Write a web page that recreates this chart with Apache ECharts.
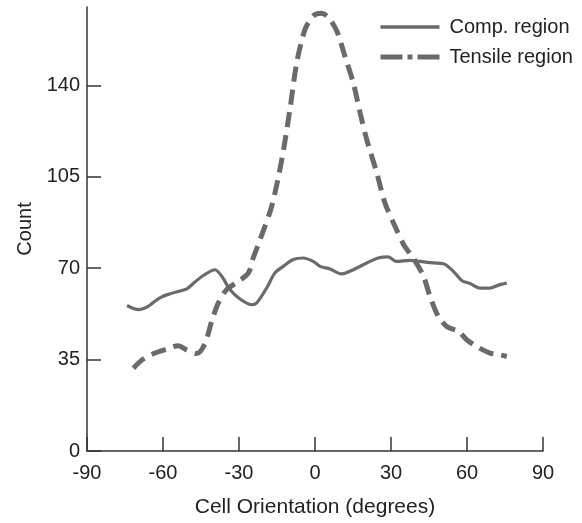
<!DOCTYPE html>
<html>
<head>
<meta charset="utf-8">
<script src="https://cdn.jsdelivr.net/npm/echarts@6/dist/echarts.min.js"></script>
<style>
html,body{margin:0;padding:0;background:#fff;}
#chart{width:582px;height:523px;}
</style>
</head>
<body>
<div id="chart"></div>
<script>
const seriesNames = ['Comp. region', 'Tensile region'];
const xTicks = [-90, -60, -30, 0, 30, 60, 90];
const yTicks = [0, 35, 70, 105, 140];

const compX = [-74.2, -69.7, -66.4, -63.8, -60.5, -57.2, -54, -50.6, -47.4, -44.1, -39.5, -36.8, -33.6, -29.6, -25, -23, -19.1, -15.8, -12.5, -8.6, -4.6, -0.7, 2, 5.9, 10.5, 15.1, 20.4, 25, 28.9, 32.2, 37.5, 41.5, 46.7, 50.7, 54.6, 57.9, 61.2, 65.1, 69.1, 73, 75.7];
const compY = [55.7, 54.1, 55.1, 56.9, 59, 60.2, 61.1, 62.1, 64.7, 67.2, 69.4, 66.9, 61.8, 58.2, 56, 56.7, 62.4, 68.2, 70.7, 73.3, 73.9, 72.6, 70.7, 69.7, 67.8, 69.4, 72, 73.9, 74.3, 72.6, 73, 72.6, 72, 71.7, 68.8, 65.3, 64.1, 62.4, 62.4, 63.7, 64.3];

const tensX = [-71.7, -67.8, -63.2, -58.6, -54, -50.7, -46.7, -43.5, -40.8, -38.2, -34.9, -30.3, -26.3, -24.4, -21.7, -17.1, -13.1, -9.9, -7.2, -3.9, -0.7, 2.6, 5.3, 8.6, 11.8, 15.1, 17.8, 20.4, 24.4, 27.6, 31.6, 35.2, 38.8, 42.8, 45.4, 48.7, 52, 56.6, 59.9, 63.8, 69.1, 73, 75.7];
const tensY = [31.7, 35.2, 37.5, 39, 40.3, 38.7, 37.3, 41, 49.6, 56.6, 61.8, 64.9, 68.2, 73.9, 80.9, 93.7, 111.6, 130.8, 148.7, 161.5, 166.6, 167.6, 166, 160.8, 151.2, 141, 129.5, 119.3, 106.5, 95, 86, 78.7, 73.9, 66.9, 59.2, 51.5, 47.7, 45.8, 42.6, 40, 37.5, 36.8, 36.2];

const lineColor = '#6a6a6a';
const axisColor = '#333333';
const textColor = '#222222';
const font = 'Liberation Sans, Arial, Helvetica, sans-serif';

const chart = echarts.init(document.getElementById('chart'), null, {renderer: 'canvas'});
chart.setOption({
  animation: false,
  backgroundColor: '#ffffff',
  grid: {left: 87, right: 39, top: 7, bottom: 72, containLabel: false},
  legend: {
    orient: 'vertical',
    left: 373,
    top: 12,
    itemWidth: 59,
    itemHeight: 14,
    itemGap: 10,
    itemStyle: {opacity: 0},
    textStyle: {fontSize: 20, color: textColor, fontFamily: font, padding: [0, 0, 0, 5]},
    data: [
      {name: seriesNames[0], lineStyle: {width: 3.5}},
      {name: seriesNames[1], lineStyle: {type: [22, 5, 5, 5], width: 5}}
    ]
  },
  xAxis: {
    type: 'value',
    min: -90, max: 90, interval: 30,
    name: 'Cell Orientation (degrees)',
    nameLocation: 'middle',
    nameGap: 46,
    nameTextStyle: {fontSize: 21, color: textColor, fontFamily: font},
    axisLine: {onZero: false, lineStyle: {color: axisColor, width: 1.5}},
    axisTick: {inside: true, length: 14, lineStyle: {color: axisColor, width: 1.5}, customValues: xTicks},
    axisLabel: {fontSize: 20, color: textColor, fontFamily: font, margin: 12, customValues: xTicks},
    splitLine: {show: false}
  },
  yAxis: {
    type: 'value',
    min: 0, max: 170,
    name: 'Count',
    nameLocation: 'middle',
    nameGap: 52,
    nameRotate: 90,
    nameTextStyle: {fontSize: 20, color: textColor, fontFamily: font},
    axisLine: {show: true, onZero: false, lineStyle: {color: axisColor, width: 1.5}},
    axisTick: {show: true, inside: true, length: 14, lineStyle: {color: axisColor, width: 1.5}, customValues: yTicks},
    axisLabel: {fontSize: 20, color: textColor, fontFamily: font, margin: 7, customValues: yTicks},
    splitLine: {show: false}
  },
  series: [
    {
      name: seriesNames[0],
      type: 'line',
      showSymbol: false,
      symbol: 'none',
      smooth: 0.3,
      lineStyle: {color: lineColor, width: 3.2},
      itemStyle: {color: lineColor},
      data: compX.map((x, i) => [x, compY[i]])
    },
    {
      name: seriesNames[1],
      type: 'line',
      showSymbol: false,
      symbol: 'none',
      smooth: 0.3,
      lineStyle: {color: lineColor, width: 5, type: [15, 8]},
      itemStyle: {color: lineColor},
      data: tensX.map((x, i) => [x, tensY[i]])
    }
  ]
});
</script>
</body>
</html>
